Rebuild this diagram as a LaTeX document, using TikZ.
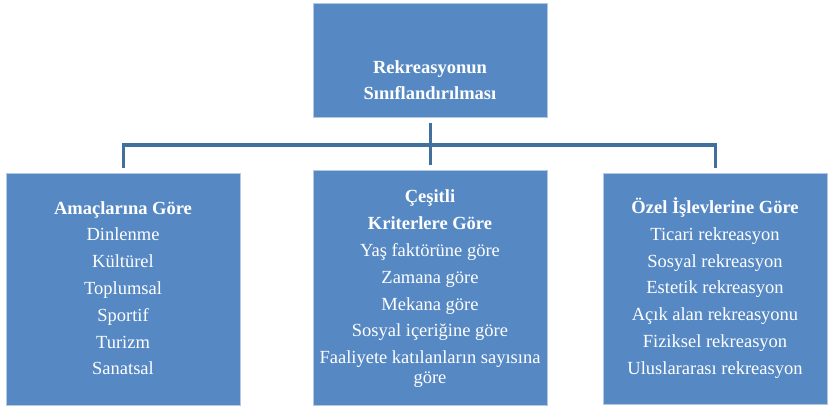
\documentclass[tikz,border=0pt]{standalone}
\usepackage{fontspec}
\setmainfont{Liberation Serif}
\usepackage{xcolor}
\definecolor{boxBlue}  {HTML}{5689C4}
\definecolor{lineBlue} {HTML}{41709F}
\definecolor{edgeBlue} {HTML}{B4C8E4}
\usetikzlibrary{positioning, calc}
\tikzset{
    catbox/.style={rectangle, draw=edgeBlue, line width=0.8pt, fill=boxBlue,
                   anchor=north west, inner sep=0pt},
    cattext/.style={anchor=north, align=center, inner sep=0pt, text=white,
                    font=\fontsize{18.5}{26.8}\selectfont},
    conn/.style={-, line width=3.6pt, lineBlue, line join=miter,
                 shorten <=5pt, shorten >=5pt},
}

\begin{document}
\begin{tikzpicture}[x=1pt, y=-1pt]
    \useasboundingbox (0,0) rectangle (828,407);

    % boxes
    \node[catbox, minimum width=234pt, minimum height=114pt] (root) at (313,3) {};
    \node[catbox, minimum width=234pt, minimum height=232pt] (amac) at (6,173) {};
    \node[catbox, minimum width=234pt, minimum height=235pt] (cesit) at (313,170) {};
    \node[catbox, minimum width=224pt, minimum height=231pt] (ozel) at (603,173) {};

    % texts
    \node[cattext] (rootText) at (430,54.2)
        {\strut\textbf{Rekreasyonun}\\ \textbf{Sınıflandırılması}};
    \node[cattext] (amacText) at (123,195.2)
        {\strut\textbf{Amaçlarına Göre}\\ Dinlenme\\ Kültürel\\ Toplumsal\\ Sportif\\ Turizm\\ Sanatsal};
    \node[cattext] (cesitText) at (430,184)
        {\strut\textbf{Çeşitli}\\ \textbf{Kriterlere Göre}\\ Yaş faktörüne göre\\ Zamana göre\\
         Mekana göre\\ Sosyal içeriğine göre\\ Faaliyete katılanların sayısına\\[-6.8pt] göre};
    \node[cattext] (ozelText) at (715,194.5)
        {\strut\textbf{Özel İşlevlerine Göre}\\ Ticari rekreasyon\\ Sosyal rekreasyon\\ Estetik rekreasyon\\
         Açık alan rekreasyonu\\ Fiziksel rekreasyon\\ Uluslararası rekreasyon};

    % connectors
    \coordinate (hub) at (430,145);
    \draw[conn] (root) -- (cesit);
    \draw[conn] (amac.north) |- (hub) -| (ozel.north);
\end{tikzpicture}
\end{document}
